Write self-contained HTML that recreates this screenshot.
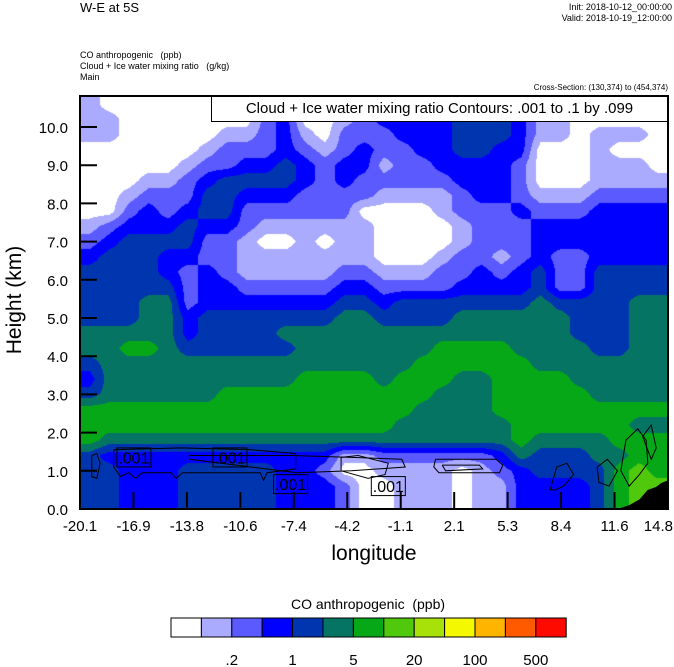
<!DOCTYPE html>
<html><head><meta charset="utf-8">
<style>
body{margin:0;background:#fff;}
#wrap{position:relative;width:674px;height:667px;overflow:hidden;background:#fff;font-family:"Liberation Sans",sans-serif;}
.t{position:absolute;white-space:nowrap;color:#000;}
canvas{position:absolute;left:80px;top:96px;}
svg{position:absolute;left:0;top:0;}
</style></head>
<body>
<div id="wrap">
<div class="t" style="left:80px;top:0px;font-size:13px;">W-E at 5S</div>
<div class="t" style="right:2px;top:2px;font-size:9px;text-align:right;">Init: 2018-10-12_00:00:00</div>
<div class="t" style="right:2px;top:13px;font-size:9px;text-align:right;">Valid: 2018-10-19_12:00:00</div>
<div class="t" style="left:80px;top:50px;font-size:9px;">CO anthropogenic &nbsp; (ppb)</div>
<div class="t" style="left:80px;top:61px;font-size:9px;">Cloud + Ice water mixing ratio &nbsp; (g/kg)</div>
<div class="t" style="left:80px;top:72px;font-size:9px;">Main</div>
<div class="t" style="right:6px;top:83px;font-size:8px;">Cross-Section: (130,374) to (454,374)</div>
<canvas id="cv" width="588" height="413"></canvas>
<svg id="sv" width="674" height="667"></svg>
<div class="t" style="left:211px;top:96px;width:455px;height:24px;border:1px solid #000;background:#fff;font-size:15px;line-height:24px;text-align:center;">Cloud + Ice water mixing ratio Contours: .001 to .1 by .099</div>
<div class="t" style="left:-40px;top:288px;width:110px;text-align:center;font-size:21px;transform:rotate(-90deg);">Height (km)</div>
<div class="t" style="left:274px;top:542px;width:200px;text-align:center;font-size:21px;">longitude</div>
<div class="t" style="left:218px;top:596px;width:300px;text-align:center;font-size:14px;">CO anthropogenic &nbsp;(ppb)</div>
</div>
<script>
// ---- data ----
const xTickLabels = ["-20.1","-16.9","-13.8","-10.6","-7.4","-4.2","-1.1","2.1","5.3","8.4","11.6","14.8"];
const yTickValues = [0,1,2,3,4,5,6,7,8,9,10];
const lonMin = -20.1, lonMax = 14.8, hMax = 10.8;
const levelColors = ["#ffffff","#aaaaff","#5a5aff","#0000ff","#0035b0","#067462","#06a818","#50c80c","#a8e00a","#f4f800","#ffb400","#ff5a00","#ff0a00"];
const colorbarLabels = [".2","1","5","20","100","500"];
// CO level index per grid cell; rows from top (10.8 km) down in 0.4 km steps, 30 longitude columns
const coGrid = [
"100000000000000000000000000000",
"110000000230012333344431100000",
"110000011231022233344431101110",
"000000122232123223344330001000",
"000001223343233122333320001110",
"000112344443232222233320001111",
"001222443332222111123321112222",
"002323442222220000122232223333",
"123334332111111000012223333333",
"234444221001011000012223333333",
"344433221111111000122123223333",
"444432321111122111223234224444",
"444442332222233222233334224444",
"444552333333344344444445444455",
"444553444444455444455555544455",
"555553444455555555555555544455",
"556654444445555555666655554455",
"455555555555555556666665555555",
"355555555556666566655666655555",
"455555566666666666555666665555",
"666666666666666665555666666666",
"666666666666666655555566666655",
"655555555555555555555565555666",
"433333333333311222222354445566",
"443334444433200111101234444676",
"443334444433320011101133334677",
"443334444433320011101133334677"
];
const terrainLon = [11.8,12.5,13.1,13.6,14.1,14.4,14.8];
const terrainH = [0.0,0.1,0.25,0.5,0.58,0.68,0.75];
// cloud contour (.001) loops as [lon, height] points
const contourLoops = [
 [[-19.4,1.4],[-19.1,1.45],[-18.9,1.2],[-19.1,0.8],[-19.4,0.85],[-19.4,1.4]],
 [[-18.1,1.55],[-14.1,1.6],[-9.9,1.55],[-7.3,1.45],[-7.3,1.05],[-9.0,0.95],[-9.2,0.75],[-9.4,0.95],[-14.0,0.95],[-14.4,0.8],[-14.7,0.95],[-16.4,0.95],[-16.8,0.8],[-17.2,0.95],[-17.7,0.85],[-18.1,1.1],[-18.1,1.55]],
 [[-13.6,1.4],[-7.5,1.4],[-4.0,1.35],[-1.0,1.3],[-0.8,1.1],[-4.0,1.0],[-7.2,0.95],[-13.6,1.3],[-13.6,1.4]],
 [[-4.6,1.35],[-3.6,1.4],[-1.8,1.2],[-2.0,0.9],[-3.0,0.8],[-4.6,1.0],[-4.6,1.35]],
 [[1.0,1.3],[4.6,1.3],[5.0,1.15],[4.8,0.95],[1.2,0.95],[0.9,1.1],[1.0,1.3]],
 [[1.4,1.15],[3.6,1.15],[3.8,1.05],[1.6,1.0],[1.4,1.15]],
 [[7.8,0.5],[8.2,1.1],[8.8,1.2],[9.2,0.9],[8.6,0.6],[8.1,0.5],[7.8,0.5]],
 [[10.6,1.1],[11.2,1.3],[11.8,1.0],[11.3,0.6],[10.7,0.7],[10.6,1.1]],
 [[12.0,1.0],[12.3,1.8],[13.0,2.1],[13.5,1.8],[13.6,1.2],[13.1,0.9],[12.5,0.6],[12.0,1.0]],
 [[13.3,1.9],[13.8,2.2],[14.1,1.6],[13.8,1.3],[13.3,1.9]]
];
const labelLon = [-16.9,-11.2,-7.6,-1.8];
const labelH = [1.35,1.35,0.65,0.6];

// ---- scales ----
const X0=80, X1=668, Y0=509, PX_PER_KM=38.2;
function xScale(lon){return X0+(lon-lonMin)/(lonMax-lonMin)*(X1-X0);}
function yScale(h){return Y0-h*PX_PER_KM;}

// ---- filled contours ----
(function(){
 const cv=document.getElementById('cv'),ctx=cv.getContext('2d');
 const W=cv.width,H=cv.height,img=ctx.createImageData(W,H);
 const nr=coGrid.length,nc=coGrid[0].length;
 const g=coGrid.map(r=>r.split('').map(ch=>parseInt(ch,36)));
 const rgb=levelColors.map(c=>[parseInt(c.substr(1,2),16),parseInt(c.substr(3,2),16),parseInt(c.substr(5,2),16)]);
 const dLon=(lonMax-lonMin)/nc, dH=hMax/nr;
 function val(r,c){r=Math.max(0,Math.min(nr-1,r));c=Math.max(0,Math.min(nc-1,c));return g[r][c];}
 for(let py=0;py<H;py++){
  const h=(Y0-(96+py+0.5))/PX_PER_KM;
  const fr=(hMax-h)/dH-0.5; const r0=Math.floor(fr), tr=fr-r0;
  for(let px=0;px<W;px++){
   const lon=lonMin+(px+0.5)/(X1-X0)*(lonMax-lonMin);
   const fc=(lon-lonMin)/dLon-0.5; const c0=Math.floor(fc), tc=fc-c0;
   const v=(val(r0,c0)*(1-tc)+val(r0,c0+1)*tc)*(1-tr)+(val(r0+1,c0)*(1-tc)+val(r0+1,c0+1)*tc)*tr;
   const k=Math.max(0,Math.min(12,Math.round(v)));
   const i=(py*W+px)*4;
   img.data[i]=rgb[k][0];img.data[i+1]=rgb[k][1];img.data[i+2]=rgb[k][2];img.data[i+3]=255;
  }
 }
 ctx.putImageData(img,0,0);
})();

// ---- overlay ----
const NS='http://www.w3.org/2000/svg';
const sv=document.getElementById('sv');
function mk(tag,attrs,parent){const e=document.createElementNS(NS,tag);for(const k in attrs)e.setAttribute(k,attrs[k]);(parent||sv).appendChild(e);return e;}

// terrain
{
 let d='M'+xScale(terrainLon[0])+','+yScale(0);
 terrainLon.forEach((l,i)=>{d+=' L'+xScale(l)+','+yScale(terrainH[i]);});
 d+=' L'+xScale(lonMax)+','+yScale(0)+' Z';
 const p=mk('path',{d:d,fill:'#000'});
 
 
}
// contours
contourLoops.forEach((loop,j)=>{
 const d='M'+loop.map(p=>xScale(p[0]).toFixed(1)+','+yScale(p[1]).toFixed(1)).join(' L');
 const p=mk('path',{d:d,fill:'none',stroke:'#000','stroke-width':'1'});
 
 
});
labelLon.forEach((l,i)=>{
 const cx=xScale(l),cy=yScale(labelH[i]);
 const r=mk('rect',{x:cx-17,y:cy-9.5,width:34,height:19,fill:'none',stroke:'#000','stroke-width':'1'});
 
 
 const t=mk('text',{x:cx,y:cy+6,'text-anchor':'middle','font-size':'16','font-family':'Liberation Sans, sans-serif'});
 t.textContent='.001';
 
 
});
// frame
{
 const f=mk('rect',{x:X0,y:96,width:X1-X0,height:Y0-96,fill:'none',stroke:'#000','stroke-width':'2'});
 
 
}
// x ticks
xTickLabels.forEach((lab,i)=>{
 const lon=lonMin+i*(lonMax-lonMin)/(xTickLabels.length-1);
 const x=xScale(lon);
 const tk=mk('line',{x1:x,y1:Y0,x2:x,y2:Y0-17,stroke:'#000','stroke-width':'2'});
 
 
 const last=(i===xTickLabels.length-1);
 const t=mk('text',{x:last?673:x,y:531,'text-anchor':last?'end':'middle','font-size':'15','font-family':'Liberation Sans, sans-serif'});
 t.textContent=lab;
 
 
});
// y ticks
yTickValues.forEach(v=>{
 const y=yScale(v);
 const tk=mk('line',{x1:X0,y1:y,x2:X0+17,y2:y,stroke:'#000','stroke-width':'2'});
 
 
 const t=mk('text',{x:68,y:y+6,'text-anchor':'end','font-size':'15','font-family':'Liberation Sans, sans-serif'});
 t.textContent=v.toFixed(1);
 
 
});
// colorbar
{
 const bx=171,bw=30.4,by=618,bh=19;
 levelColors.forEach((c,i)=>{
  const r=mk('rect',{x:bx+i*bw,y:by,width:bw,height:bh,fill:c,stroke:'#000','stroke-width':'1'});
  
  
 });
 colorbarLabels.forEach((lab,i)=>{
  const t=mk('text',{x:bx+(2+2*i)*bw,y:665,'text-anchor':'middle','font-size':'15','font-family':'Liberation Sans, sans-serif'});
  t.textContent=lab;
  
  
 });
}
</script>
</body></html>
